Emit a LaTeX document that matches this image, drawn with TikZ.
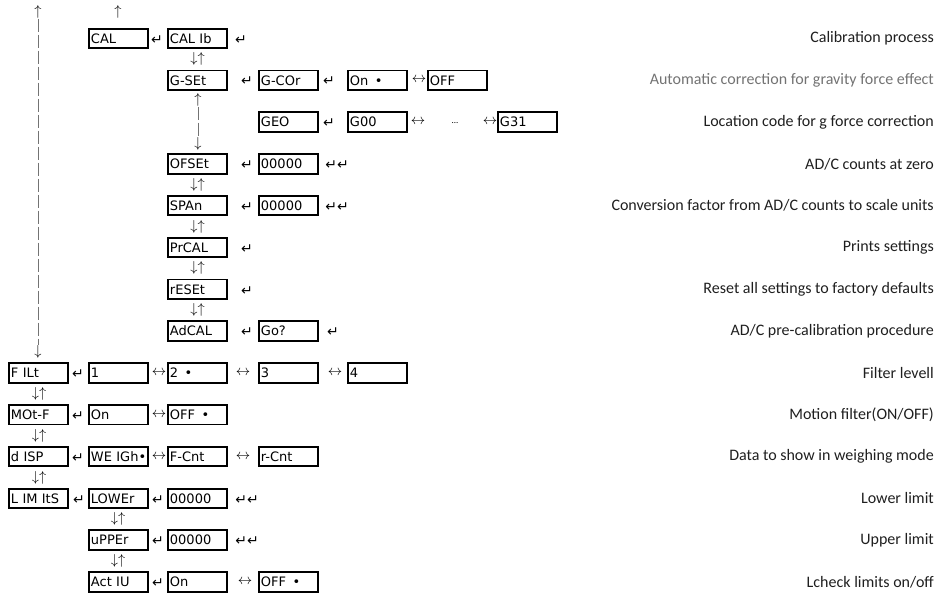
\documentclass[tikz,border=0pt]{standalone}
\usepackage{fontspec}
\setmainfont{Carlito}
\newfontfamily\lcdfont{DejaVu Sans}
\newfontfamily\symfont{DejaVu Sans}
\tikzset{
  lcd/.style={draw, line width=1.9pt, anchor=west, text width=55pt, inner xsep=2pt,
    inner ysep=0pt, minimum height=19.5pt, align=left,
    font=\lcdfont\fontsize{13}{13}\selectfont},
  ret/.style={inner sep=0pt, font=\symfont\fontsize{14}{14}\selectfont},
  sym/.style={inner sep=0pt, font=\fontsize{15}{15}\selectfont},
  desc/.style={anchor=east, inner sep=0pt, font=\fontsize{16}{16}\selectfont, text=black!88},
  vline/.style={line width=0.6pt, draw=black!55, dash pattern=on 13pt off 3pt}
}
\begin{document}
\begin{tikzpicture}[x=1pt,y=-1pt]
\useasboundingbox (0,0) rectangle (939,593);
% top arrows and left return line
\node[sym] (upL) at (38,12) {$\uparrow$};
\node[sym] (upCAL) at (118,12) {$\uparrow$};
\node[sym] (dnL) at (38,352) {$\downarrow$};
\draw[vline] (upL.south) -- (dnL.north);
% row 0
\node[lcd] (cal) at (88,38.5) {CAL};
\node[ret] (r0a) at (157,40) {↵};
\node[lcd] (calib) at (167,38.5) {CAL~Ib};
\node[ret] (r0b) at (241,40) {↵};
\node[desc] (d0) at (934,38.5) {Calibration process};
\node[sym] (ud01) at (197.5,59.4) {$\downarrow\uparrow$};
% row 1
\node[lcd] (gset) at (167,80.3) {G-SEt};
\node[ret] (r1a) at (247,81) {↵};
\node[lcd] (gcor) at (258,80.3) {G-COr};
\node[ret] (r1b) at (329,81) {↵};
\node[lcd] (gon) at (347,80.3) {On\enspace•};
\node[sym] (lr1) at (419,80.3) {$\leftrightarrow$};
\node[lcd] (goff) at (427,80.3) {OFF};
\node[desc, text=black!55] (d1) at (934,80.3) {Automatic correction for gravity force effect};
\node[sym] (gup) at (198,100) {$\uparrow$};
\node[sym] (gdn) at (198,144) {$\downarrow$};
\draw[vline] (gup.south) -- (gdn.north);
% row 2
\node[lcd] (geo) at (258,122.1) {GEO};
\node[ret] (r2a) at (329,123) {↵};
\node[lcd] (g00) at (347,122.1) {G00};
\node[sym] (lr2a) at (418,122.1) {$\leftrightarrow$};
\node[inner sep=0pt, font=\fontsize{9}{9}\selectfont] (dots) at (455,123) {...};
\node[sym] (lr2b) at (490,122.1) {$\leftrightarrow$};
\node[lcd] (g31) at (497,122.1) {G31};
\node[desc] (d2) at (934,122.1) {Location code for g force correction};
% row 3
\node[lcd] (ofset) at (167,163.9) {OFSEt};
\node[ret] (r3a) at (247,165) {↵};
\node[lcd] (ofval) at (258,163.9) {00000};
\node[ret] (r3b) at (337,165) {↵↵};
\node[desc] (d3) at (934,163.9) {AD/C counts at zero};
\node[sym] (ud34) at (197.5,184.8) {$\downarrow\uparrow$};
% row 4
\node[lcd] (span) at (167,205.7) {SPAn};
\node[ret] (r4a) at (247,207) {↵};
\node[lcd] (spval) at (258,205.7) {00000};
\node[ret] (r4b) at (337,207) {↵↵};
\node[desc] (d4) at (934,205.7) {Conversion factor from AD/C counts to scale units};
\node[sym] (ud45) at (197.5,226.6) {$\downarrow\uparrow$};
% row 5
\node[lcd] (prcal) at (167,247.5) {PrCAL};
\node[ret] (r5a) at (247,249) {↵};
\node[desc] (d5) at (934,247.5) {Prints settings};
\node[sym] (ud56) at (197.5,268.4) {$\downarrow\uparrow$};
% row 6
\node[lcd] (reset) at (167,289.3) {rESEt};
\node[ret] (r6a) at (247,291) {↵};
\node[desc] (d6) at (934,289.3) {Reset all settings to factory defaults};
\node[sym] (ud67) at (197.5,310.2) {$\downarrow\uparrow$};
% row 7
\node[lcd] (adcal) at (167,331.1) {AdCAL};
\node[ret] (r7a) at (247,332) {↵};
\node[lcd] (go) at (258,331.1) {Go?};
\node[ret] (r7b) at (333,332) {↵};
\node[desc] (d7) at (934,331.1) {AD/C pre-calibration procedure};
% row 8
\node[lcd] (filt) at (8,372.9) {F~ILt};
\node[ret] (r8a) at (78,374) {↵};
\node[lcd] (f1) at (88,372.9) {1};
\node[sym] (lr8a) at (159,372.9) {$\leftrightarrow$};
\node[lcd] (f2) at (167,372.9) {2\enspace•};
\node[sym] (lr8b) at (243,372.9) {$\leftrightarrow$};
\node[lcd] (f3) at (258,372.9) {3};
\node[sym] (lr8c) at (335,372.9) {$\leftrightarrow$};
\node[lcd] (f4) at (347,372.9) {4};
\node[desc] (d8) at (934,372.9) {Filter levell};
\node[sym] (ud89) at (39,393.8) {$\downarrow\uparrow$};
% row 9
\node[lcd] (motf) at (8,414.7) {MOt-F};
\node[ret] (r9a) at (78,416) {↵};
\node[lcd] (mon) at (88,414.7) {On};
\node[sym] (lr9) at (159,414.7) {$\leftrightarrow$};
\node[lcd] (moff) at (167,414.7) {OFF\enspace•};
\node[desc] (d9) at (934,414.7) {Motion filter(ON/OFF)};
\node[sym] (ud910) at (39,435.6) {$\downarrow\uparrow$};
% row 10
\node[lcd] (disp) at (8,456.5) {d~ISP};
\node[ret] (r10a) at (78,458) {↵};
\node[lcd] (weigh) at (88,456.5) {WE~IGh•};
\node[sym] (lr10a) at (159,456.5) {$\leftrightarrow$};
\node[lcd] (fcnt) at (167,456.5) {F-Cnt};
\node[sym] (lr10b) at (243,456.5) {$\leftrightarrow$};
\node[lcd] (rcnt) at (258,456.5) {r-Cnt};
\node[desc] (d10) at (934,456.5) {Data to show in weighing mode};
\node[sym] (ud1011) at (39,477.4) {$\downarrow\uparrow$};
% row 11
\node[lcd] (limits) at (8,498.3) {L~IM~ItS};
\node[ret] (r11a) at (79,500) {↵};
\node[lcd] (lower) at (88,498.3) {LOWEr};
\node[ret] (r11b) at (158,500) {↵};
\node[lcd] (loval) at (167,498.3) {00000};
\node[ret] (r11c) at (247,500) {↵↵};
\node[desc] (d11) at (934,498.3) {Lower limit};
\node[sym] (ud1112) at (118,519.2) {$\downarrow\uparrow$};
% row 12
\node[lcd] (upper) at (88,540.1) {uPPEr};
\node[ret] (r12a) at (158,541) {↵};
\node[lcd] (upval) at (167,540.1) {00000};
\node[ret] (r12b) at (247,541) {↵↵};
\node[desc] (d12) at (934,540.1) {Upper limit};
\node[sym] (ud1213) at (118,561) {$\downarrow\uparrow$};
% row 13
\node[lcd] (activ) at (88,581.9) {Act~IU};
\node[ret] (r13a) at (158,583) {↵};
\node[lcd] (aon) at (167,581.9) {On};
\node[sym] (lr13) at (245,581.9) {$\leftrightarrow$};
\node[lcd] (aoff) at (258,581.9) {OFF\enspace•};
\node[desc] (d13) at (934,581.9) {Lcheck limits on/off};
\end{tikzpicture}
\end{document}
